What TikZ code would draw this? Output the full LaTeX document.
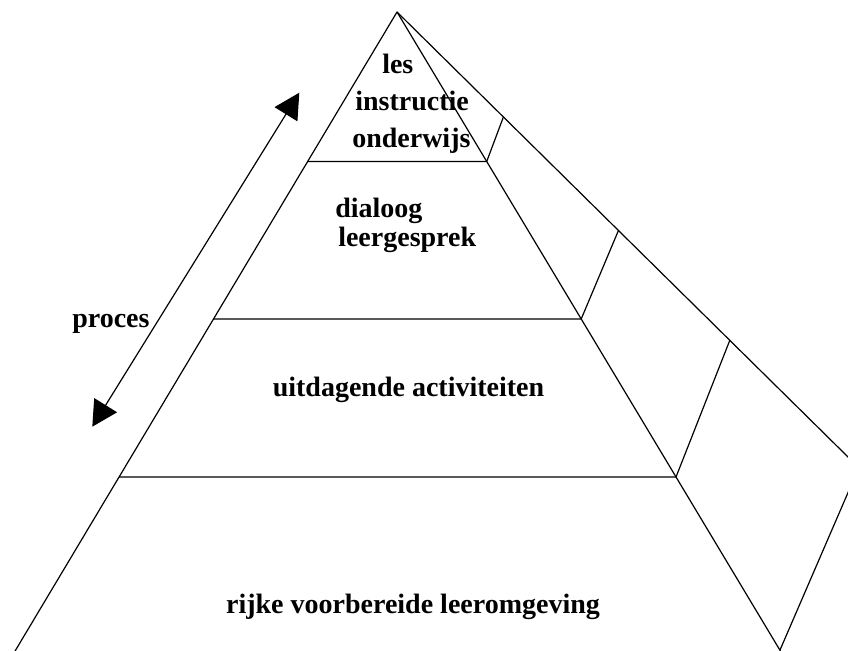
\documentclass[tikz,border=0pt]{standalone}
\usepackage{fontspec}
\setmainfont{Liberation Serif}
\usetikzlibrary{arrows.meta}
\begin{document}
\begin{tikzpicture}[x={(0.75pt,0)},y={(0,-0.75pt)},
  edge/.style={line width=0.9pt,line join=round},
  lbl/.style={inner sep=0pt,font=\fontsize{21}{24}\selectfont\bfseries},
  twoway/.style={line width=0.9pt,{Triangle[length=19pt,width=20pt]}-{Triangle[length=19pt,width=20pt]}}]
\useasboundingbox (0,0) rectangle (848,650);
\clip (0,0) rectangle (848,650);
% pyramid corners
\coordinate (A) at (397,12);
\coordinate (FL) at (5.5,667);
\coordinate (FR) at (790,667);
\coordinate (BK) at (920,528);
\coordinate (SB) at (872,437);
% level lines
\coordinate (L1l) at (307.6,161.5); \coordinate (L1r) at (486.7,161.5);
\coordinate (L2l) at (213.4,319);   \coordinate (L2r) at (581.2,319);
\coordinate (L3l) at (119,477);     \coordinate (L3r) at (676,477);
% back edge points
\coordinate (B1) at (503.4,117);
\coordinate (B2) at (618.3,230.8);
\coordinate (B3) at (729.8,340.3);
\coordinate (B4) at (780,650);
\draw[edge] (FL) -- (A) -- (FR);
\draw[edge] (A) -- (BK);
\draw[edge] (L1l) -- (L1r) -- (B1);
\draw[edge] (L2l) -- (L2r) -- (B2);
\draw[edge] (L3l) -- (L3r) -- (B3);
\draw[edge] (B4) -- (SB);
% labels
\node[lbl,anchor=base west] (t1) at (382,73.5) {les};
\node[lbl,anchor=base west] (t2) at (355,110.5) {instructie};
\node[lbl,anchor=base west] (t3) at (352,147) {onderwijs};
\node[lbl,anchor=base west] (t4) at (335,217) {dialoog};
\node[lbl,anchor=base west] (t5) at (338,246) {leergesprek};
\node[lbl,anchor=base] (t6) at (408.5,396.7) {uitdagende activiteiten};
\node[lbl,anchor=base] (t7) at (413,613) {rijke voorbereide leeromgeving};
\node[lbl,anchor=base west] (t8) at (72,327) {proces};
% process arrow
\coordinate (P1) at (92.3,426.7);
\coordinate (P2) at (299.3,92.7);
\draw[twoway] (P1) -- (P2);
\end{tikzpicture}
\end{document}
